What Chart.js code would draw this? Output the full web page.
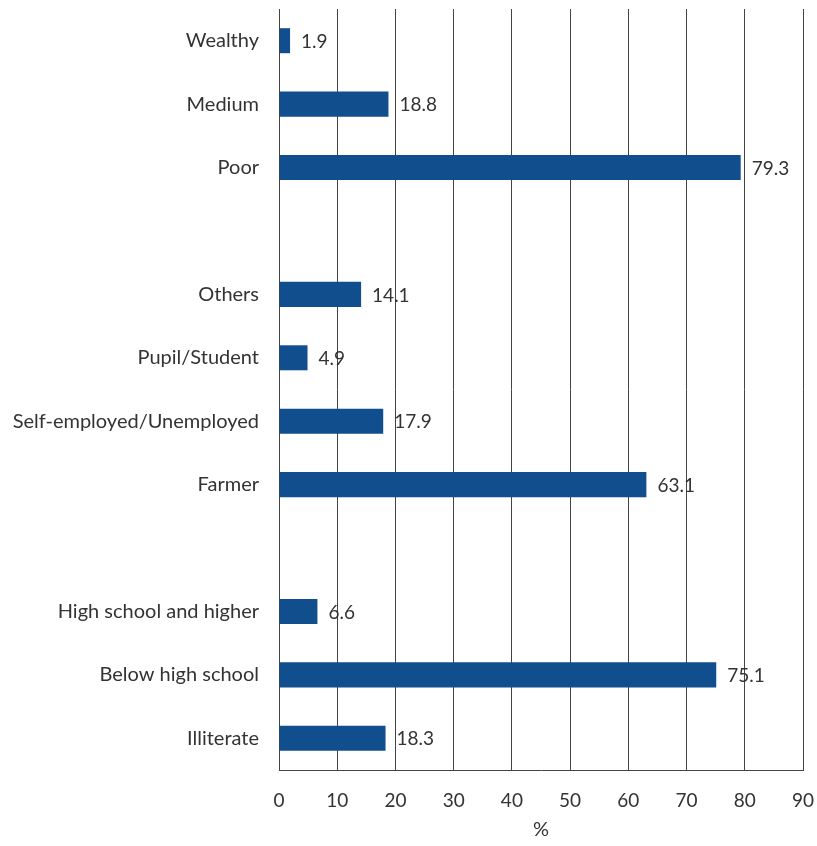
<!DOCTYPE html>
<html>
<head>
<meta charset="utf-8">
<script src="https://cdn.jsdelivr.net/npm/chart.js@4.4.0/dist/chart.umd.min.js"></script>
<style>
  html, body { margin: 0; padding: 0; background: #fff; }
  #wrap { width: 817px; height: 846px; position: relative; }
</style>
</head>
<body>
<div id="wrap"><canvas id="chart"></canvas></div>
<script>
// categories top to bottom, '' = gap between groups
const categories = [
  "Wealthy", "Medium", "Poor", "",
  "Others", "Pupil/Student", "Self-employed/Unemployed", "Farmer", "",
  "High school and higher", "Below high school", "Illiterate"
];
const values = [1.9, 18.8, 79.3, null, 14.1, 4.9, 17.9, 63.1, null, 6.6, 75.1, 18.3];
const xTicks = [0, 10, 20, 30, 40, 50, 60, 70, 80, 90];
const xTitle = "%";

const barColor = "#114e8e";
const textColor = "#333333";
const lineColor = "#444444";
const fontFamily = "Lato, 'Open Sans', sans-serif";

// draws the value next to the end of each bar
const valueLabels = {
  id: "valueLabels",
  afterDatasetsDraw(chart) {
    const ctx = chart.ctx;
    const meta = chart.getDatasetMeta(0);
    ctx.save();
    ctx.font = "19px " + fontFamily;
    ctx.fillStyle = textColor;
    ctx.textAlign = "left";
    ctx.textBaseline = "middle";
    meta.data.forEach((bar, i) => {
      if (values[i] === null) return;
      ctx.fillText(values[i].toFixed(1), bar.x + 11, bar.y + 1);
    });
    ctx.restore();
  }
};

const chartIns = new Chart(document.getElementById("chart").getContext("2d"), {
  type: "bar",
  data: {
    labels: categories,
    datasets: [{
      data: values,
      backgroundColor: barColor,
      borderWidth: 0,
      barPercentage: 0.8,
      categoryPercentage: 0.493
    }]
  },
  options: {
    indexAxis: "y",
    responsive: true,
    maintainAspectRatio: false,
    animation: false,
    layout: { padding: { top: 9, right: 14, left: 0, bottom: 0 } },
    plugins: {
      legend: { display: false },
      tooltip: { enabled: false }
    },
    scales: {
      x: {
        min: 0,
        max: 90,
        afterBuildTicks(scale) {
          scale.ticks = xTicks.map(v => ({ value: v }));
        },
        grid: {
          color: lineColor,
          lineWidth: 1,
          drawTicks: false
        },
        border: { color: lineColor, width: 1 },
        ticks: {
          color: textColor,
          font: { size: 19, family: fontFamily },
          padding: 19
        },
        title: {
          display: true,
          text: xTitle,
          color: textColor,
          font: { size: 20, family: fontFamily },
          padding: { top: 0, bottom: 4 }
        },
        afterFit(scale) {
          scale.height = 76;
          scale.paddingLeft = 0;
          scale.paddingRight = 0;
        }
      },
      y: {
        grid: { display: false, drawTicks: false },
        border: { color: lineColor, width: 1 },
        ticks: {
          color: textColor,
          font: { size: 20, family: fontFamily },
          padding: 20,
          autoSkip: false
        },
        afterFit(scale) {
          scale.width = 279;
          scale.paddingTop = 0;
          scale.paddingBottom = 0;
        }
      }
    }
  },
  plugins: [valueLabels]
});
</script>
</body>
</html>
